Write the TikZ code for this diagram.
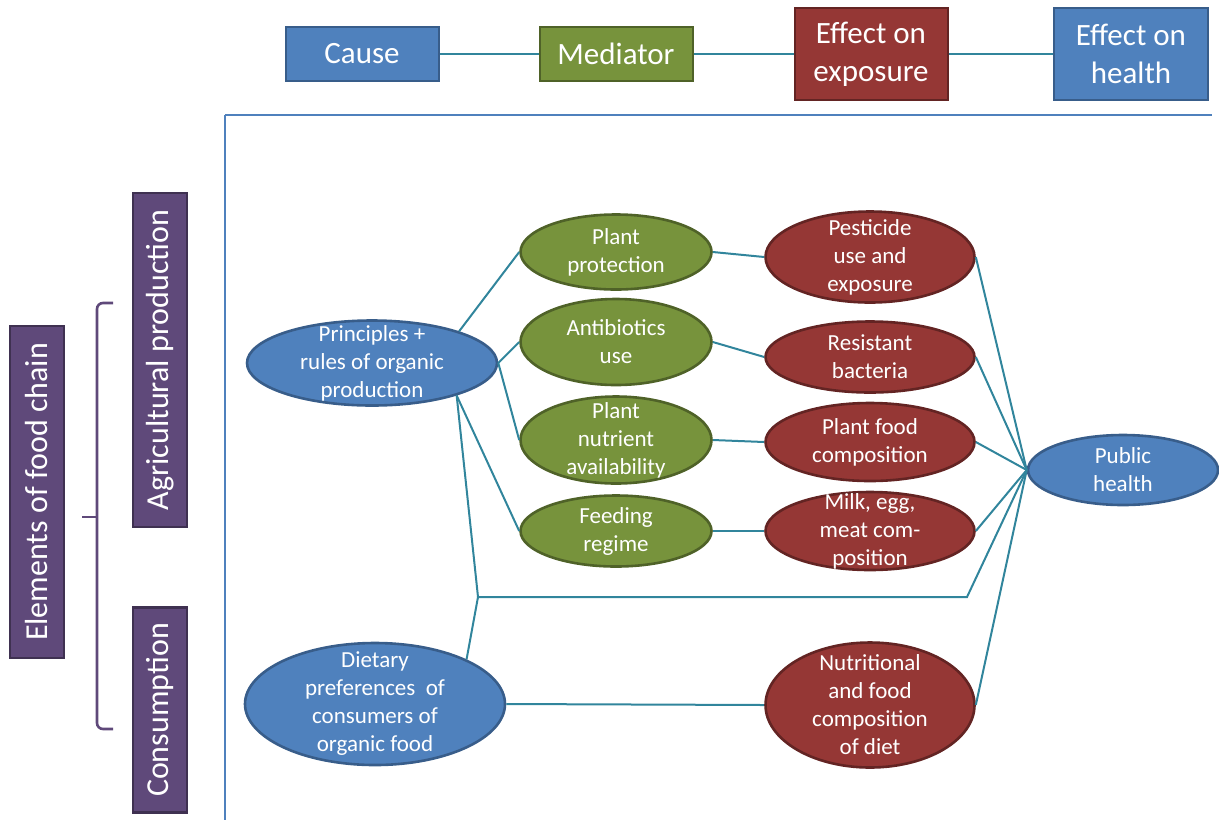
\documentclass[tikz,border=0pt]{standalone}
\usepackage{fontspec}
\setmainfont{Carlito}
\usetikzlibrary{shapes.geometric}
\definecolor{blueF}{HTML}{4F81BD}
\definecolor{blueD}{HTML}{385D8A}
\definecolor{greenF}{HTML}{77933C}
\definecolor{greenD}{HTML}{4F6228}
\definecolor{redF}{HTML}{953735}
\definecolor{redD}{HTML}{632423}
\definecolor{purpF}{HTML}{5F497A}
\definecolor{purpD}{HTML}{3F3151}
\definecolor{link}{HTML}{31859C}
\begin{document}
\begin{tikzpicture}[x=0.5pt,y=-0.5pt,
	box/.style={draw, line width=1pt, text=white, align=center, inner sep=0pt,
		font=\fontsize{15.5}{19}\selectfont},
	sidebox/.style={draw=purpD, fill=purpF, line width=1.2pt, text=white, rotate=90,
		inner sep=0pt, minimum height=27pt, font=\fontsize{16}{19}\selectfont},
	ell/.style={ellipse, draw, line width=1.3pt, inner sep=0pt},
	txt/.style={text=white, align=center, font=\fontsize{11.5}{14}\selectfont},
	blueell/.style={ell, fill=blueF, draw=blueD},
	greenell/.style={ell, fill=greenF, draw=greenD},
	redell/.style={ell, fill=redF, draw=redD},
	conn/.style={draw=link, line width=1pt}]
	\useasboundingbox (0,0) rectangle (1219,820);
	% Legend
	\node[box, fill=blueF, draw=blueD, minimum width=76.5pt, minimum height=27pt] (cause) at (362,54) {Cause};
	\node[box, fill=greenF, draw=greenD, minimum width=76.5pt, minimum height=27pt] (med) at (616,54) {Mediator};
	\node[box, fill=redF, draw=redD, minimum width=76.5pt, minimum height=46pt] (expo) at (871,54) {Effect on\\exposure};
	\node[box, fill=blueF, draw=blueD, minimum width=77pt, minimum height=46pt] (hlth) at (1131,54) {Effect on\\health};
	\draw[conn] (cause) -- (med);
	\draw[conn] (med) -- (expo);
	\draw[conn] (expo) -- (hlth);
	\draw[blueF, line width=0.7pt] (225,115) -- (1212,115);
	\draw[blueF, line width=0.7pt] (225,115) -- (225,820);
	% Food chain
	\node[sidebox, minimum width=166pt] (chain) at (37,492) {Elements of food chain};
	\node[sidebox, minimum width=167pt] (agri) at (160,360) {Agricultural production};
	\node[sidebox, minimum width=102.5pt] (cons) at (160,710) {Consumption};
	\draw[purpF, line width=1.3pt, rounded corners=3pt] (113,303) -- (97,303) -- (97,729) -- (113,729);
	\draw[purpF, line width=1.3pt, rounded corners=3pt] (82,517) -- (97,517);
	% Causes
	\node[blueell, minimum width=125pt, minimum height=42.5pt,
		label={[txt]center:{Principles +\\rules of organic\\production}}] (princ) at (372,363) {};
	\node[blueell, minimum width=130pt, minimum height=61pt,
		label={[txt]center:{Dietary\\preferences~ of\\consumers of\\organic food}}] (diet) at (375,704) {};
	% Mediators
	\node[greenell, minimum width=95.5pt, minimum height=37.5pt,
		label={[txt]center:{Plant\\protection}}] (prot) at (616,252) {};
	\node[greenell, minimum width=95.5pt, minimum height=43pt,
		label={[txt]center:{Antibiotics\\use}}] (anti) at (616,342) {};
	\node[greenell, minimum width=95.5pt, minimum height=43.5pt,
		label={[txt]center:{Plant\\nutrient\\availability}}] (nutr) at (616,440) {};
	\node[greenell, minimum width=95.5pt, minimum height=35.5pt,
		label={[txt]center:{Feeding\\regime}}] (feed) at (616,531) {};
	% Exposures
	\node[redell, minimum width=104.5pt, minimum height=45.5pt,
		label={[txt]center:{Pesticide\\use and\\exposure}}] (pest) at (870,257) {};
	\node[redell, minimum width=104.5pt, minimum height=35.5pt,
		label={[txt]center:{Resistant\\bacteria}}] (resi) at (870,357) {};
	\node[redell, minimum width=104.5pt, minimum height=39pt,
		label={[txt]center:{Plant food\\composition}}] (pfood) at (870,442) {};
	\node[redell, minimum width=104.5pt, minimum height=39pt,
		label={[txt]center:{Milk, egg,\\meat com-\\position}}] (milk) at (870,531) {};
	\node[redell, minimum width=104.5pt, minimum height=62.5pt,
		label={[txt]center:{Nutritional\\and food\\composition\\of diet}}] (nutri) at (870,705) {};
	% Health
	\node[blueell, minimum width=95pt, minimum height=35pt,
		label={[txt]center:{Public\\health}}] (pub) at (1123,470) {};
	% Links
	\coordinate (j1) at (478,597);
	\coordinate (j2) at (967,597);
	\draw[conn] (princ.20) -- (prot.west);
	\draw[conn] (princ.east) -- (anti.west);
	\draw[conn] (princ.east) -- (nutr.west);
	\draw[conn] (princ.-21) -- (feed.west);
	\draw[conn] (princ.-21) -- (j1) -- (j2) -- (pub.west);
	\draw[conn] (diet.26) -- (j1);
	\draw[conn] (diet.east) -- (nutri.west);
	\draw[conn] (prot.east) -- (pest.west);
	\draw[conn] (anti.east) -- (resi.west);
	\draw[conn] (nutr.east) -- (pfood.west);
	\draw[conn] (feed.east) -- (milk.west);
	\foreach \n in {pest,resi,pfood,milk,nutri}
		\draw[conn] (\n.east) -- (pub.west);
\end{tikzpicture}
\end{document}
